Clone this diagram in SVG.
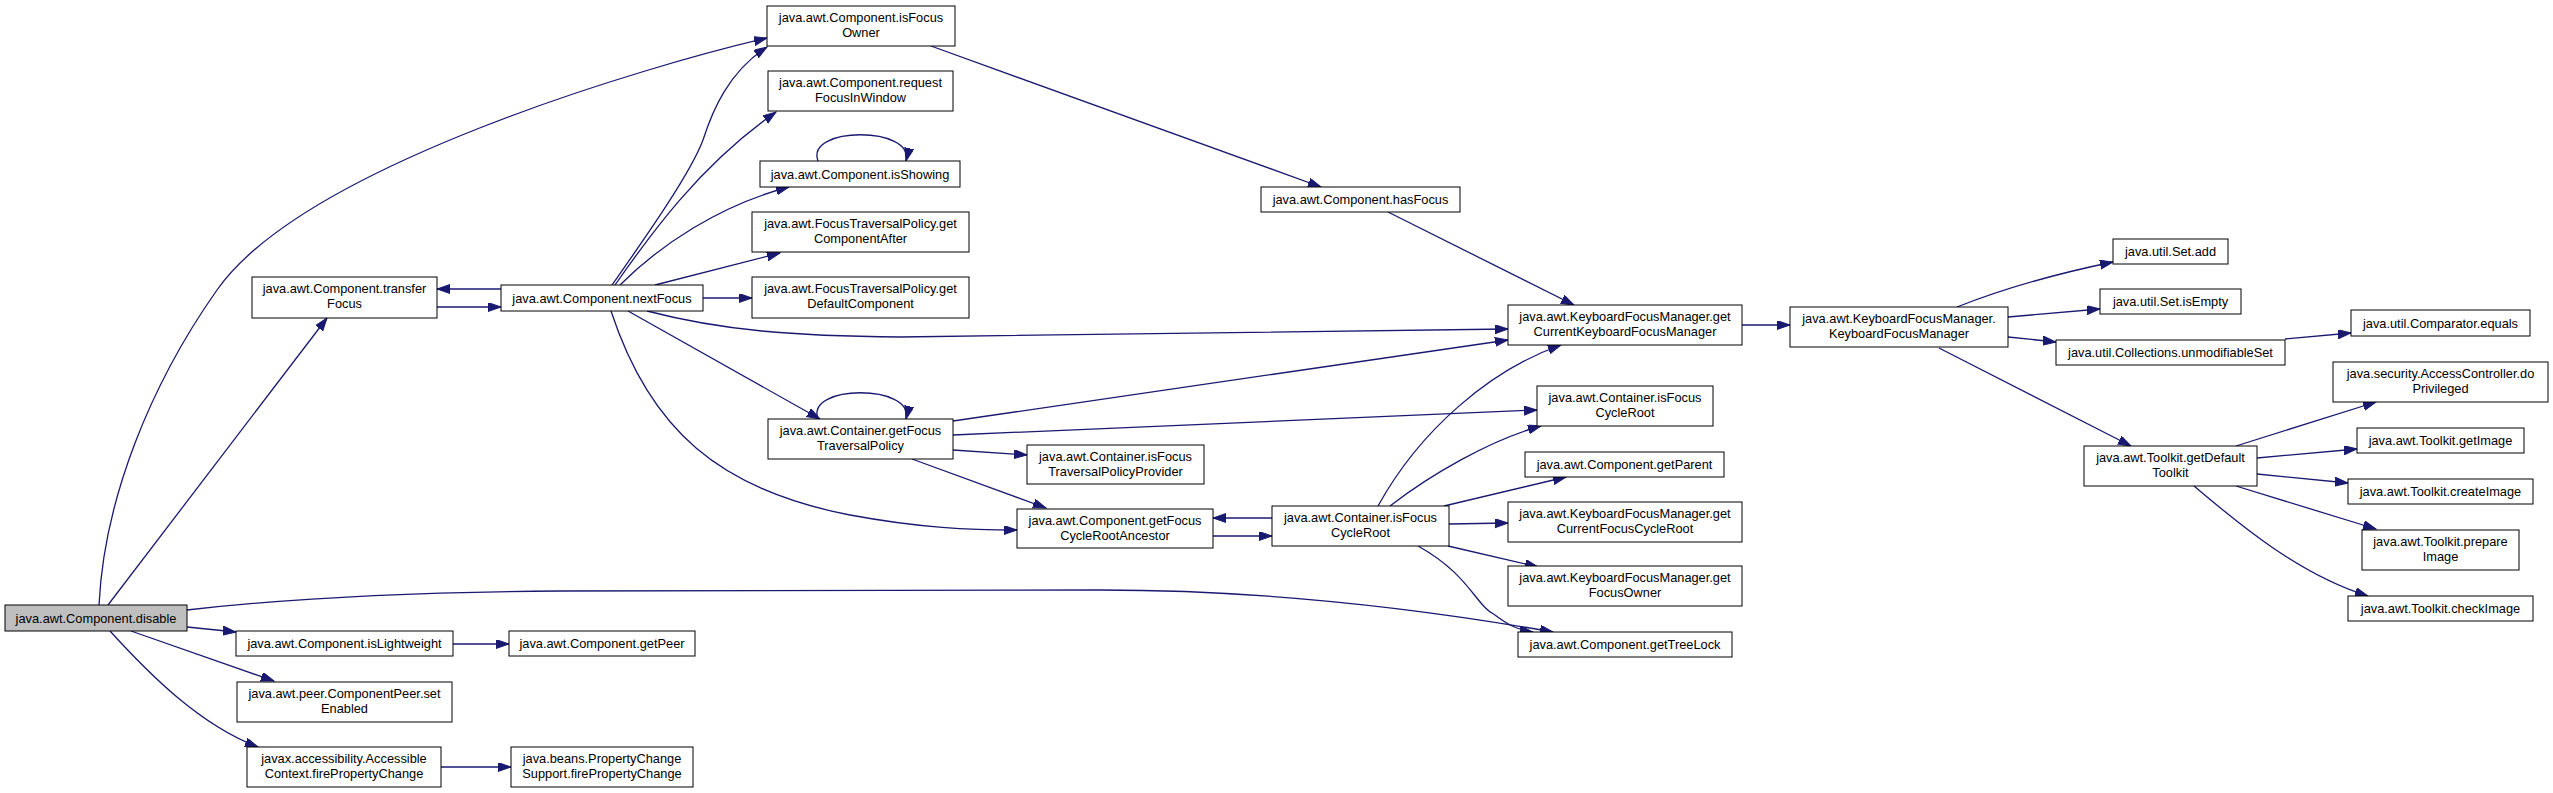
<svg xmlns="http://www.w3.org/2000/svg" width="2553" height="793" viewBox="0 0 2553 793">
<style>
.n rect{fill:#fff;stroke:#000;stroke-width:1}
.n.root rect{fill:#bfbfbf}
.n text{font-family:"Liberation Sans",Arial,sans-serif;font-size:12.8px;fill:#000;text-anchor:middle}
.e path{fill:none;stroke:#191970;stroke-width:1.3;marker-end:url(#ah)}
</style>
<defs>
<marker id="ah" markerUnits="userSpaceOnUse" markerWidth="15" markerHeight="11" refX="13" refY="4.5" orient="auto">
<path d="M0,0 L13,4.5 L0,9 z" fill="#191970" stroke="#191970" stroke-width="1"/>
</marker>
</defs>
<rect width="2553" height="793" fill="#fff"/>
<g class="e" id="edges">
<path d="M99,605 C104,500 150,385 217,290 C304,166 647,66 767,38"/>
<path d="M108,605 L327,318"/>
<path d="M187,610 C300,597 420,592 560,591 L1100,590 C1250,590 1400,605 1553,632"/>
<path d="M187,627 L236,632"/>
<path d="M131,631 L274,681"/>
<path d="M110,631 C150,675 200,725 258,747"/>
<path d="M453,644 L509,644"/>
<path d="M441,767 L511,767"/>
<path d="M501,289 L437,289"/>
<path d="M437,307 L501,307"/>
<path d="M612,285 C640,245 690,175 703,140 C712,112 728,72 767,47"/>
<path d="M615,285 C650,235 700,165 776,112"/>
<path d="M620,285 C660,245 720,205 789,187"/>
<path d="M655,285 L780,253"/>
<path d="M703,298 L752,298"/>
<path d="M647,311 C720,330 790,336 900,337 C1100,336 1300,332 1508,329"/>
<path d="M628,311 L820,419"/>
<path d="M611,311 C650,430 720,490 850,515 C920,528 970,530 1017,530"/>
<path d="M818,161 C805,126 915,126 906,161"/>
<path d="M818,419 C805,384 915,384 906,419"/>
<path d="M953,421 L1508,340"/>
<path d="M953,435 L1537,410"/>
<path d="M953,450 L1027,455"/>
<path d="M912,459 L1046,508"/>
<path d="M931,46 L1321,187"/>
<path d="M1388,212 L1574,305"/>
<path d="M1742,325 L1790,325"/>
<path d="M1272,518 L1213,518"/>
<path d="M1213,536 L1272,536"/>
<path d="M1378,506 C1420,430 1490,370 1561,345"/>
<path d="M1390,506 C1430,475 1490,440 1541,426"/>
<path d="M1444,506 L1566,477"/>
<path d="M1449,524 L1508,523"/>
<path d="M1448,546 L1538,567"/>
<path d="M1418,546 C1470,575 1475,605 1495,615 C1508,625 1518,630 1533,632"/>
<path d="M1957,307 C2000,290 2050,275 2113,262"/>
<path d="M2008,317 L2100,309"/>
<path d="M2008,337 L2056,342"/>
<path d="M1939,348 L2131,446"/>
<path d="M2285,339 L2351,333"/>
<path d="M2236,446 L2376,402"/>
<path d="M2257,458 L2357,449"/>
<path d="M2257,474 L2348,483"/>
<path d="M2236,486 L2376,529"/>
<path d="M2194,486 C2240,525 2300,575 2368,596"/>
</g>
<g class="n root" id="n_disable"><rect x="5" y="605" width="182" height="26"/><text x="96" y="622.5">java.awt.Component.disable</text></g>
<g class="n" id="n_transferFocus"><rect x="252" y="277" width="185" height="41"/><text x="344.5" y="293">java.awt.Component.transfer</text><text x="344.5" y="308">Focus</text></g>
<g class="n" id="n_isFocusOwner"><rect x="767" y="6" width="188" height="40"/><text x="861" y="22">java.awt.Component.isFocus</text><text x="861" y="37">Owner</text></g>
<g class="n" id="n_requestFocusInWindow"><rect x="768" y="71" width="185" height="40"/><text x="860.5" y="87">java.awt.Component.request</text><text x="860.5" y="102">FocusInWindow</text></g>
<g class="n" id="n_isShowing"><rect x="760" y="161" width="200" height="26"/><text x="860" y="178.5">java.awt.Component.isShowing</text></g>
<g class="n" id="n_getComponentAfter"><rect x="752" y="212" width="217" height="40"/><text x="860.5" y="228">java.awt.FocusTraversalPolicy.get</text><text x="860.5" y="243">ComponentAfter</text></g>
<g class="n" id="n_getDefaultComponent"><rect x="752" y="277" width="217" height="41"/><text x="860.5" y="293">java.awt.FocusTraversalPolicy.get</text><text x="860.5" y="308">DefaultComponent</text></g>
<g class="n" id="n_nextFocus"><rect x="501" y="285" width="202" height="26"/><text x="602" y="302.5">java.awt.Component.nextFocus</text></g>
<g class="n" id="n_getFocusTraversalPolicy"><rect x="768" y="419" width="185" height="40"/><text x="860.5" y="435">java.awt.Container.getFocus</text><text x="860.5" y="450">TraversalPolicy</text></g>
<g class="n" id="n_isLightweight"><rect x="236" y="631" width="217" height="25"/><text x="344.5" y="648">java.awt.Component.isLightweight</text></g>
<g class="n" id="n_getPeer"><rect x="509" y="631" width="186" height="25"/><text x="602" y="648">java.awt.Component.getPeer</text></g>
<g class="n" id="n_setEnabled"><rect x="237" y="682" width="215" height="40"/><text x="344.5" y="698">java.awt.peer.ComponentPeer.set</text><text x="344.5" y="713">Enabled</text></g>
<g class="n" id="n_accFirePropertyChange"><rect x="247" y="747" width="194" height="40"/><text x="344" y="763">javax.accessibility.Accessible</text><text x="344" y="778">Context.firePropertyChange</text></g>
<g class="n" id="n_pcsFirePropertyChange"><rect x="511" y="747" width="182" height="40"/><text x="602" y="763">java.beans.PropertyChange</text><text x="602" y="778">Support.firePropertyChange</text></g>
<g class="n" id="n_hasFocus"><rect x="1261" y="187" width="199" height="25"/><text x="1360.5" y="204">java.awt.Component.hasFocus</text></g>
<g class="n" id="n_getCurrentKFM"><rect x="1508" y="305" width="234" height="40"/><text x="1625" y="321">java.awt.KeyboardFocusManager.get</text><text x="1625" y="336">CurrentKeyboardFocusManager</text></g>
<g class="n" id="n_isFocusCycleRoot2"><rect x="1537" y="386" width="176" height="40"/><text x="1625" y="402">java.awt.Container.isFocus</text><text x="1625" y="417">CycleRoot</text></g>
<g class="n" id="n_isFocusTraversalPolicyProvider"><rect x="1027" y="445" width="177" height="39"/><text x="1115.5" y="461">java.awt.Container.isFocus</text><text x="1115.5" y="476">TraversalPolicyProvider</text></g>
<g class="n" id="n_getFocusCycleRootAncestor"><rect x="1017" y="509" width="196" height="39"/><text x="1115" y="525">java.awt.Component.getFocus</text><text x="1115" y="540">CycleRootAncestor</text></g>
<g class="n" id="n_isFocusCycleRoot"><rect x="1272" y="506" width="177" height="40"/><text x="1360.5" y="522">java.awt.Container.isFocus</text><text x="1360.5" y="537">CycleRoot</text></g>
<g class="n" id="n_getParent"><rect x="1525" y="452" width="199" height="25"/><text x="1624.5" y="469">java.awt.Component.getParent</text></g>
<g class="n" id="n_getCurrentFocusCycleRoot"><rect x="1508" y="502" width="234" height="40"/><text x="1625" y="518">java.awt.KeyboardFocusManager.get</text><text x="1625" y="533">CurrentFocusCycleRoot</text></g>
<g class="n" id="n_getFocusOwner"><rect x="1508" y="566" width="234" height="40"/><text x="1625" y="582">java.awt.KeyboardFocusManager.get</text><text x="1625" y="597">FocusOwner</text></g>
<g class="n" id="n_getTreeLock"><rect x="1518" y="632" width="214" height="25"/><text x="1625" y="649">java.awt.Component.getTreeLock</text></g>
<g class="n" id="n_KFMctor"><rect x="1790" y="307" width="218" height="40"/><text x="1899" y="323">java.awt.KeyboardFocusManager.</text><text x="1899" y="338">KeyboardFocusManager</text></g>
<g class="n" id="n_setAdd"><rect x="2113" y="239" width="115" height="25"/><text x="2170.5" y="256">java.util.Set.add</text></g>
<g class="n" id="n_setIsEmpty"><rect x="2100" y="289" width="141" height="25"/><text x="2170.5" y="306">java.util.Set.isEmpty</text></g>
<g class="n" id="n_unmodifiableSet"><rect x="2056" y="340" width="229" height="25"/><text x="2170.5" y="357">java.util.Collections.unmodifiableSet</text></g>
<g class="n" id="n_comparatorEquals"><rect x="2351" y="310" width="179" height="26"/><text x="2440.5" y="327.5">java.util.Comparator.equals</text></g>
<g class="n" id="n_doPrivileged"><rect x="2333" y="362" width="215" height="40"/><text x="2440.5" y="378">java.security.AccessController.do</text><text x="2440.5" y="393">Privileged</text></g>
<g class="n" id="n_getImage"><rect x="2357" y="428" width="167" height="25"/><text x="2440.5" y="445">java.awt.Toolkit.getImage</text></g>
<g class="n" id="n_getDefaultToolkit"><rect x="2084" y="446" width="173" height="40"/><text x="2170.5" y="462">java.awt.Toolkit.getDefault</text><text x="2170.5" y="477">Toolkit</text></g>
<g class="n" id="n_createImage"><rect x="2348" y="479" width="185" height="25"/><text x="2440.5" y="496">java.awt.Toolkit.createImage</text></g>
<g class="n" id="n_prepareImage"><rect x="2362" y="530" width="157" height="40"/><text x="2440.5" y="546">java.awt.Toolkit.prepare</text><text x="2440.5" y="561">Image</text></g>
<g class="n" id="n_checkImage"><rect x="2348" y="596" width="185" height="25"/><text x="2440.5" y="613">java.awt.Toolkit.checkImage</text></g>
</svg>
